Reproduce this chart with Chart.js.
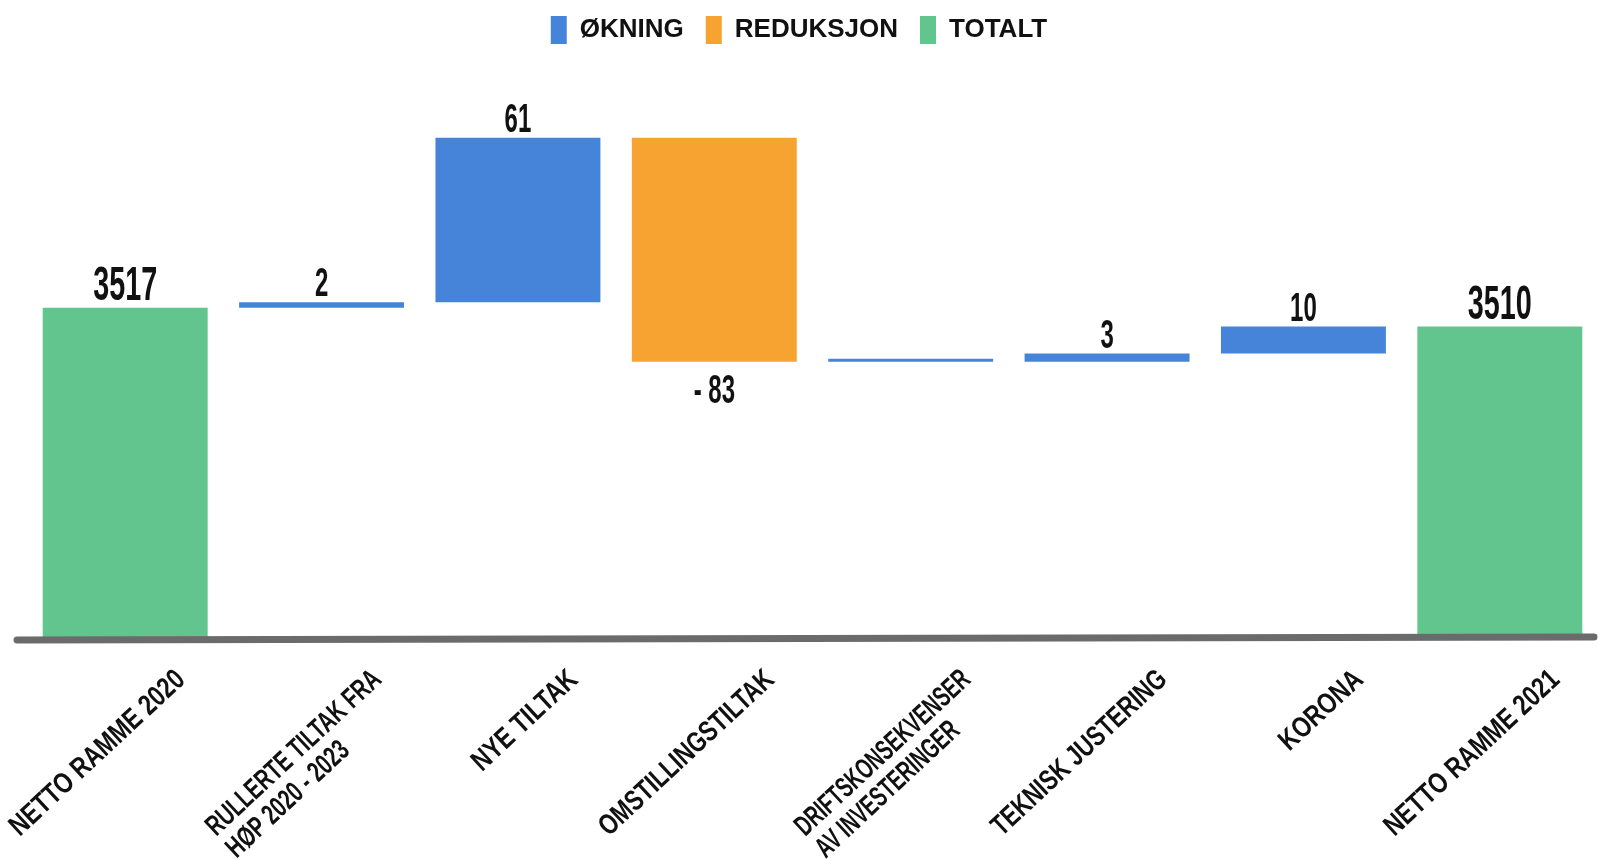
<!DOCTYPE html>
<html>
<head>
<meta charset="utf-8">
<script src="https://cdn.jsdelivr.net/npm/chart.js@4/dist/chart.umd.min.js"></script>
<style>
  html, body { margin: 0; padding: 0; background: #fff; overflow: hidden; }
  #wrap { width: 1598px; height: 860px; }
  canvas { display: block; }
</style>
</head>
<body>
<div id="wrap"><canvas id="c"></canvas></div>
<script>
// kategorier og verdier (mill. kr)
const categories = [
    ['NETTO RAMME 2020'],
    ['RULLERTE TILTAK FRA', 'HØP 2020 - 2023'],
    ['NYE TILTAK'],
    ['OMSTILLINGSTILTAK'],
    ['DRIFTSKONSEKVENSER', 'AV INVESTERINGER'],
    ['TEKNISK JUSTERING'],
    ['KORONA'],
    ['NETTO RAMME 2021']
];
const values = [3517, 2, 61, -83, 0, 3, 10, 3510];
const isTotal = [true, false, false, false, false, false, false, true];
const legendNames = ['ØKNING', 'REDUKSJON', 'TOTALT'];
const yMin = 3395;
const yMax = 3611;

const BLUE = '#4684da';
const ORANGE = '#f6a332';
const GREEN = '#62c58d';
const FONT = '"Liberation Sans", Arial, sans-serif';

// bygg flytende søyler for fossefallet
const okning = [], reduksjon = [], totalt = [];
let running = 0;
values.forEach((v, i) => {
    if (isTotal[i]) {
        totalt.push([yMin, v]);
        okning.push(null);
        reduksjon.push(null);
        running = v;
    } else {
        const seg = [running, running + v];
        if (v >= 0) { okning.push(seg); reduksjon.push(null); }
        else { reduksjon.push(seg); okning.push(null); }
        totalt.push(null);
        running += v;
    }
});

// verdietiketter over/under søylene
const valueLabels = {
    id: 'valueLabels',
    afterDatasetsDraw(chart) {
        const ctx = chart.ctx;
        chart.data.datasets.forEach((ds, di) => {
            const meta = chart.getDatasetMeta(di);
            meta.data.forEach((el, i) => {
                if (ds.data[i] == null) return;
                const v = values[i];
                if (v === 0) return;
                const big = isTotal[i];
                const size = big ? 48 : 40;
                const top = Math.min(el.y, el.base);
                const bottom = Math.max(el.y, el.base);
                ctx.save();
                ctx.fillStyle = '#111';
                ctx.font = 'bold ' + size + 'px ' + FONT;
                ctx.textAlign = 'center';
                let y;
                if (v < 0) { ctx.textBaseline = 'top'; y = bottom + 10; }
                else { ctx.textBaseline = 'alphabetic'; y = top - (big ? 8 : 6); }
                ctx.translate(el.x, y);
                ctx.scale(0.6, 1);
                ctx.fillText(v < 0 ? '- ' + Math.abs(v) : String(v), 0, 0);
                ctx.restore();
            });
        });
    }
};

// grå grunnlinje og skrå kategorietiketter
const axisDecor = {
    id: 'axisDecor',
    afterDatasetsDraw(chart) {
        const ctx = chart.ctx;
        const area = chart.chartArea;
        const x = chart.scales.x;
        ctx.save();
        ctx.strokeStyle = '#6b6b6b';
        ctx.lineWidth = 7;
        ctx.lineCap = 'round';
        ctx.beginPath();
        ctx.moveTo(area.left - 10, area.bottom + 3);
        ctx.lineTo(area.right - 4, area.bottom);
        ctx.stroke();
        ctx.restore();

        categories.forEach((lines, i) => {
            const px = x.getPixelForValue(i);
            ctx.save();
            ctx.fillStyle = '#111';
            ctx.font = 'bold 29px ' + FONT;
            ctx.translate(px + 46, area.bottom + 28);
            ctx.rotate(-43 * Math.PI / 180);
            const w1 = ctx.measureText(lines[0]).width;
            const sx = Math.min(0.8, 228 / w1);
            ctx.scale(sx, 1);
            ctx.textAlign = 'left';
            ctx.textBaseline = 'top';
            // første linje slutter ved ankeret, neste linjer venstrejustert under
            lines.forEach((l, li) => {
                ctx.fillText(l, -w1, li * 30);
            });
            ctx.restore();
        });
    }
};

new Chart(document.getElementById('c'), {
    type: 'bar',
    data: {
        labels: categories,
        datasets: [
            { label: legendNames[0], data: okning, backgroundColor: BLUE, minBarLength: 3 },
            { label: legendNames[1], data: reduksjon, backgroundColor: ORANGE },
            { label: legendNames[2], data: totalt, backgroundColor: GREEN }
        ]
    },
    options: {
        responsive: true,
        maintainAspectRatio: false,
        animation: false,
        skipNull: true,
        barPercentage: 0.84,
        categoryPercentage: 1,
        layout: { padding: { left: 0, right: 0, top: -6, bottom: 215 } },
        plugins: {
            legend: {
                position: 'top',
                labels: {
                    boxWidth: 16,
                    boxHeight: 28,
                    padding: 22,
                    color: '#111',
                    font: { family: FONT, size: 26, weight: 'bold' }
                }
            },
            tooltip: { enabled: false }
        },
        scales: {
            x: {
                grid: { display: false },
                border: { display: false },
                ticks: { display: false }
            },
            y: {
                display: true,
                min: yMin,
                max: yMax,
                grid: { display: false },
                border: { display: false },
                ticks: { display: false },
                afterFit(scale) { scale.width = 27; }
            }
        }
    },
    plugins: [valueLabels, axisDecor]
});
</script>
</body>
</html>
